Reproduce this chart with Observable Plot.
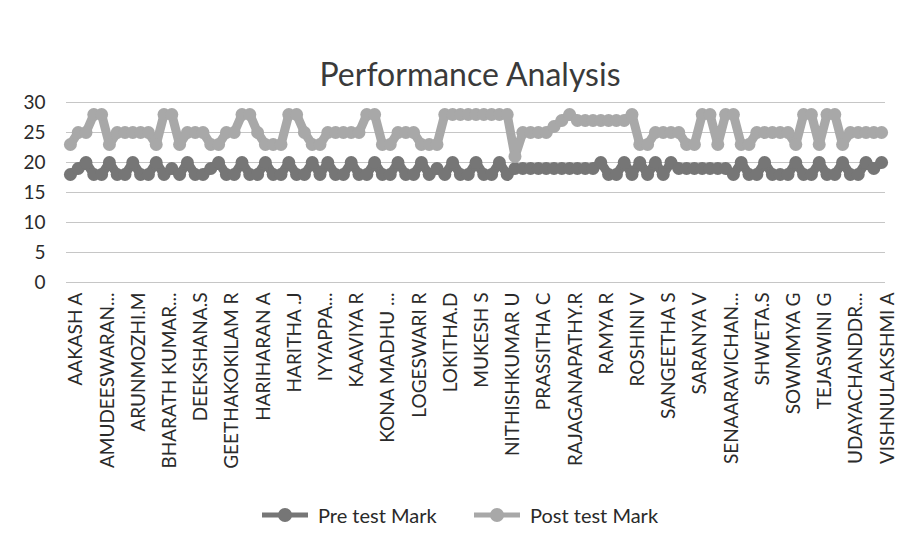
<!DOCTYPE html>
<html><head><meta charset="utf-8">
<script src="https://cdn.jsdelivr.net/npm/d3@7"></script>
<script src="https://cdn.jsdelivr.net/npm/@observablehq/plot@0.6"></script>
<style>
body{margin:0;background:#fff;}
#chart{position:relative;width:897px;height:548px;font-family:Lato,sans-serif;overflow:hidden;background:#fff;}
#chart > svg{position:absolute;left:0;top:0;}
#title{position:absolute;left:0;width:940px;top:54px;text-align:center;font-size:32px;color:#3a3a3a;}
.leg{position:absolute;top:503px;font-size:20px;color:#2a2a2a;display:flex;align-items:center;white-space:nowrap;}
.leg svg{margin-right:10px;}
</style></head>
<body>
<div id="chart">
  <div id="title">Performance Analysis</div>
</div>
<script>
// visible category labels (every 4th student)
const tickLabels = ["AAKASH A","AMUDEESWARAN...","ARUNMOZHI.M","BHARATH KUMAR...","DEEKSHANA.S","GEETHAKOKILAM R","HARIHARAN A","HARITHA .J","IYYAPPA...","KAAVIYA R","KONA MADHU ...","LOGESWARI R","LOKITHA.D","MUKESH S","NITHISHKUMAR U","PRASSITHA C","RAJAGANAPATHY.R","RAMYA R","ROSHINI V","SANGEETHA S","SARANYA V","SENAARAVICHAN...","SHWETA.S","SOWMMYA G","TEJASWINI G","UDAYACHANDDR...","VISHNULAKSHMI A"];
const labelEvery = 4;
const seriesNames = ["Pre test Mark","Post test Mark"];
const pre = [
18,19,20,18,18,20,18,18,20,18,
18,20,18,19,18,20,18,18,19,20,
18,18,20,18,18,20,18,18,20,18,
18,20,18,20,18,18,20,18,18,20,
18,18,20,18,18,20,18,19,18,20,
18,18,20,18,18,20,18,19,19,19,
19,19,19,19,19,19,19,19,20,18,
18,20,18,20,18,20,18,20,19,19,
19,19,19,19,19,18,20,18,18,20,
18,18,18,20,18,18,20,18,18,20,
18,18,20,19,20];
const post = [
23,25,25,28,28,23,25,25,25,25,
25,23,28,28,23,25,25,25,23,23,
25,25,28,28,25,23,23,23,28,28,
25,23,23,25,25,25,25,25,28,28,
23,23,25,25,25,23,23,23,28,28,
28,28,28,28,28,28,28,21,25,25,
25,25,26,27,28,27,27,27,27,27,
27,27,28,23,23,25,25,25,25,23,
23,28,28,23,28,28,23,23,25,25,
25,25,25,23,28,28,23,28,28,23,
25,25,25,25,25];
const yTicks = [0,5,10,15,20,25,30];

const preColor = "#767676", postColor = "#a8a8a8";
const idx = d3.range(pre.length);
const rows = idx.map(i => ({i, pre: pre[i], post: post[i]}));
const tickIdx = idx.filter(i => i % labelEvery === 0);

const chart = Plot.plot({
  width: 897, height: 548,
  marginLeft: 66, marginRight: 12, marginTop: 102, marginBottom: 266,
  style: {fontFamily: "Lato, sans-serif", background: "transparent", color: "#2a2a2a"},
  x: {type: "point", domain: idx, padding: 0.5, axis: null},
  y: {domain: [0, 30], axis: null},
  marks: [
    Plot.gridY(yTicks, {stroke: "#c6c6c6", strokeOpacity: 1, strokeWidth: 1}),
    Plot.axisY(yTicks, {tickSize: 0, tickPadding: 21, fontSize: 19, fill: "#2a2a2a", label: null}),
    Plot.axisX(tickIdx, {tickSize: 0, tickPadding: 10, tickRotate: -90, fontSize: 19, fill: "#2a2a2a", dx: 6,
      label: null, tickFormat: i => tickLabels[i / labelEvery]}),
    Plot.line(rows, {x: "i", y: "pre", stroke: preColor, strokeWidth: 9, strokeLinejoin: "round"}),
    Plot.dot(rows, {x: "i", y: "pre", r: 6.5, fill: preColor, stroke: "none"}),
    Plot.line(rows, {x: "i", y: "post", stroke: postColor, strokeWidth: 9, strokeLinejoin: "round"}),
    Plot.dot(rows, {x: "i", y: "post", r: 6.5, fill: postColor, stroke: "none"})
  ]
});
const root = document.getElementById("chart");
root.insertBefore(chart, root.firstChild);

// legend
const legPos = [{left: 262, color: preColor}, {left: 474, color: postColor}];
seriesNames.forEach((name, k) => {
  const d = document.createElement("div");
  d.className = "leg";
  d.style.left = legPos[k].left + "px";
  d.innerHTML = `<svg width="46" height="16"><line x1="0" y1="8" x2="46" y2="8" stroke="${legPos[k].color}" stroke-width="5"/><circle cx="23" cy="8" r="7" fill="${legPos[k].color}"/></svg><span>${name}</span>`;
  root.appendChild(d);
});
</script>
</body></html>
